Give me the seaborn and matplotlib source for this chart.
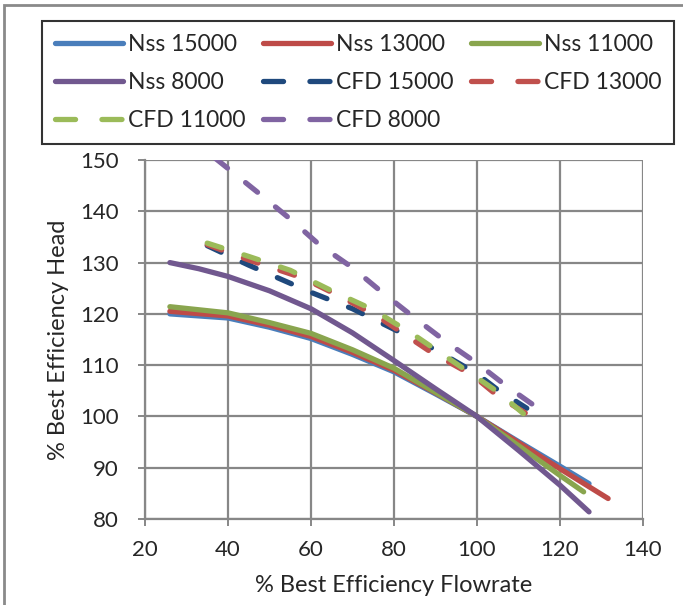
import numpy as np
import pandas as pd
import seaborn as sns
import matplotlib
matplotlib.use("Agg")
import matplotlib.pyplot as plt
from matplotlib.patches import Rectangle
from matplotlib.lines import Line2D

# %% data
nss15000_x = [26, 40, 50, 60, 70, 80, 90, 100, 110, 120, 127]
nss15000_y = [120.0, 119.2, 117.4, 115.2, 112.1, 108.7, 104.4, 100.0, 95.1, 90.3, 86.9]

nss13000_x = [26, 40, 50, 60, 70, 80, 90, 100, 110, 120, 131.6]
nss13000_y = [120.5, 119.6, 117.8, 115.6, 112.5, 109.0, 104.6, 100.0, 94.9, 89.8, 84.0]

nss11000_x = [26, 40, 50, 60, 70, 80, 90, 100, 110, 120, 125.7]
nss11000_y = [121.4, 120.2, 118.3, 116.2, 113.0, 109.4, 104.7, 100.0, 94.3, 88.5, 85.3]

nss8000_x = [26, 33, 40, 50, 60, 70, 80, 90, 100, 110, 120, 127]
nss8000_y = [130.0, 128.8, 127.3, 124.5, 121.0, 116.3, 110.9, 105.4, 100.0, 93.4, 86.6, 81.4]

cfd15000_x = [35, 45, 60, 70, 80, 90, 100, 105, 112]
cfd15000_y = [133.3, 129.5, 124.2, 121.0, 117.0, 113.0, 108.3, 105.2, 101.6]

cfd13000_x = [35, 45, 58, 68, 77, 89, 99, 105, 112]
cfd13000_y = [133.5, 130.5, 127.0, 123.0, 119.0, 112.5, 108.0, 104.0, 100.5]

cfd11000_x = [35, 45, 55, 65, 75, 85, 95, 105, 112]
cfd11000_y = [133.8, 131.2, 128.5, 124.5, 120.8, 115.8, 110.3, 104.8, 100.0]

cfd8000_x = [37, 47, 55, 62, 70, 77, 85, 93, 100, 107, 114]
cfd8000_y = [150.3, 143.8, 138.5, 133.5, 129.0, 124.3, 119.2, 114.3, 110.4, 106.0, 102.0]

series = {
    "Nss 15000": (nss15000_x, nss15000_y, "#4A7EBB", "-"),
    "Nss 13000": (nss13000_x, nss13000_y, "#BE4B48", "-"),
    "Nss 11000": (nss11000_x, nss11000_y, "#89A54E", "-"),
    "Nss 8000": (nss8000_x, nss8000_y, "#71588F", "-"),
    "CFD 15000": (cfd15000_x, cfd15000_y, "#1F497D", "--"),
    "CFD 13000": (cfd13000_x, cfd13000_y, "#C0504D", "--"),
    "CFD 11000": (cfd11000_x, cfd11000_y, "#9BBB59", "--"),
    "CFD 8000": (cfd8000_x, cfd8000_y, "#8064A2", "--"),
}

df = pd.concat(
    [pd.DataFrame({"flow": x, "head": y, "series": name}) for name, (x, y, _, _) in series.items()],
    ignore_index=True,
)

# %% style
sns.set_style("white")
plt.rcParams["font.family"] = ["Lato", "DejaVu Sans"]
FS = 17
LEG_FS = 16.5
TICK_FS = 16
LW = 3.8
GRID = "#878787"

fig = plt.figure(figsize=(6.83, 6.05), dpi=100)
ax = fig.add_axes([0.2123, 0.1421, 0.7291, 0.5934])

handles = []
for name, (x, y, color, ls) in series.items():
    sdf = df[df.series == name]
    sns.lineplot(
        data=sdf, x="flow", y="head", ax=ax, color=color, linewidth=LW,
        sort=False, estimator=None, legend=False,
    )
    line = ax.get_lines()[-1]
    line.set_solid_capstyle("round")
    line.set_dash_capstyle("round")
    line.set_solid_joinstyle("round")
    if ls == "--":
        line.set_dashes((2.9, 4.4))
    # legend proxy: two dashes fill the handle
    h = Line2D([], [], color=color, linewidth=LW, solid_capstyle="round", dash_capstyle="round")
    if ls == "--":
        h.set_dashes((3.8, 5.0))
    handles.append(h)

ax.set_xlim(20, 140)
ax.set_ylim(80, 150)
ax.set_xticks(range(20, 141, 20))
ax.set_yticks(range(80, 151, 10))
ax.grid(True, color=GRID, linewidth=1.6)
ax.set_axisbelow(True)
for side in ["top", "right"]:
    ax.spines[side].set_visible(False)
for side in ["left", "bottom"]:
    ax.spines[side].set_color(GRID)
    ax.spines[side].set_linewidth(1.6)
ax.tick_params(axis="both", which="major", direction="out", length=5, width=1.4,
               color=GRID, labelsize=TICK_FS, left=True, bottom=True)
ax.tick_params(axis="x", pad=10)
ax.tick_params(axis="y", pad=14)
ax.set_xlabel("% Best Efficiency Flowrate", fontsize=FS, labelpad=11)
ax.set_ylabel("% Best Efficiency Head", fontsize=FS, labelpad=8)

# legend filled row by row, three columns
order = [0, 3, 6, 1, 4, 7, 2, 5]
labels = list(series.keys())
leg = fig.legend(
    [handles[i] for i in order], [labels[i] for i in order],
    ncol=3, loc="upper left", bbox_to_anchor=(42 / 683, 1 - 21 / 605),
    frameon=True, fancybox=False, fontsize=LEG_FS, handlelength=3.0,
    columnspacing=0.75, handletextpad=0.2, borderpad=0.55, labelspacing=0.75,
    borderaxespad=0,
)
leg.get_frame().set_edgecolor("black")
leg.get_frame().set_linewidth(1.5)

# outer chart border
fig.patches.append(Rectangle((4 / 683, -0.02), 1.0, 1 - 5 / 605 + 0.02, transform=fig.transFigure,
                             fill=False, edgecolor="#8A8A8A", linewidth=2))

fig.savefig("out.png", dpi=100)
